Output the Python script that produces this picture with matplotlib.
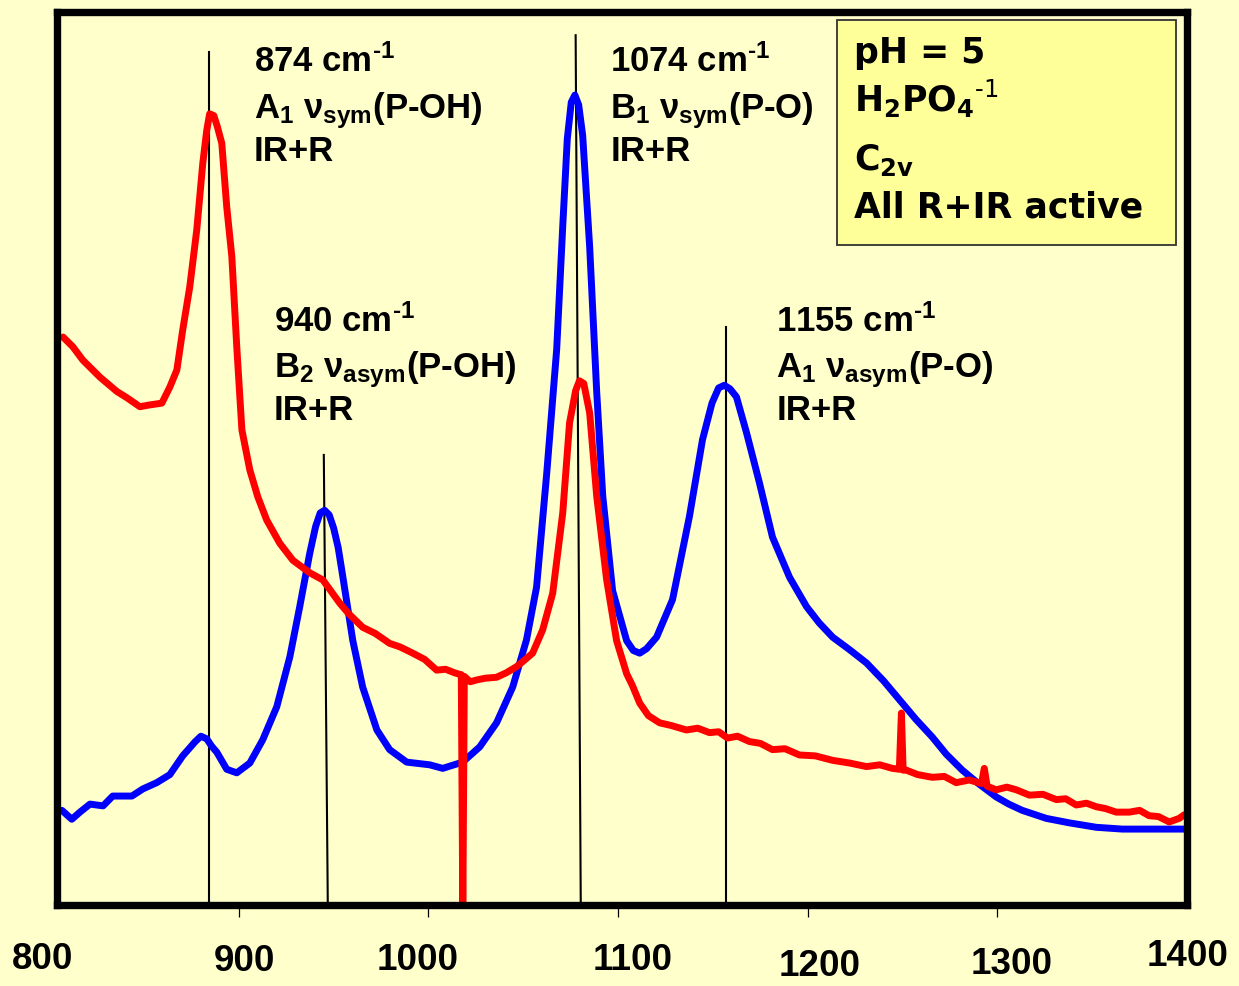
import matplotlib
matplotlib.use("Agg")
import matplotlib.pyplot as plt
import matplotlib.transforms as mtransforms
from matplotlib.patches import Rectangle

# spectra (wavenumber in cm-1, intensity in arbitrary units 0-100)
red_x = [807.3, 812.5, 817.8, 826.8, 835.7, 841.0, 847.8, 853.0, 859.4, 863.6, 867.3, 870.4,
         874.1, 877.8, 881.0, 883.1, 884.6, 886.8, 888.6, 891.0, 893.6, 896.3, 898.9, 901.6,
         905.8, 910.0, 914.7, 921.6, 928.5, 937.4, 944.3, 953.2, 958.0, 965.3, 972.0, 979.5,
         985.0, 991.7, 998.0, 1004.3, 1009.0, 1013.8, 1016.9,
         1017.3, 1018.1, 1018.9, 1022.0, 1025.4, 1030.0, 1035.9, 1041.0, 1046.5, 1050.5, 1054.9,
         1060.2, 1065.5, 1070.8, 1074.4, 1077.6, 1079.6, 1081.9, 1085.0, 1088.7, 1093.9, 1099.2,
         1104.5, 1107.5, 1111.4, 1116.0, 1121.9, 1128.0, 1136.0, 1142.0, 1148.2, 1153.0, 1157.7,
         1163.0, 1169.3, 1175.0, 1181.4, 1188.0, 1195.6, 1204.0, 1213.1, 1222.0, 1231.0, 1238.0,
         1244.6, 1248.3, 1249.4, 1250.3, 1252.0, 1258.0, 1265.7, 1272.0, 1278.3, 1285.2, 1291.6,
         1293.1, 1294.6, 1299.4, 1305.0, 1310.0, 1316.9, 1324.0, 1331.1, 1336.0, 1341.6, 1347.0,
         1352.2, 1357.0, 1362.7, 1369.6, 1375.0, 1380.0, 1385.0, 1390.6, 1395.9, 1398.5]
red_y = [63.6, 62.5, 61.0, 59.1, 57.5, 56.8, 55.8, 56.0, 56.2, 58.0, 59.9, 64.4,
         69.2, 75.6, 83.1, 86.8, 88.6, 88.4, 87.2, 85.3, 78.2, 72.6, 62.5, 53.2,
         48.7, 45.7, 43.1, 40.5, 38.6, 37.2, 36.4, 33.8, 32.6, 31.1, 30.4, 29.3,
         28.9, 28.2, 27.5, 26.3, 26.4, 26.0, 25.8,
         25.8, -1.0, 25.6, 25.0, 25.2, 25.4, 25.5, 26.0, 26.7, 27.4, 28.2,
         30.8, 34.9, 43.9, 54.0, 57.6, 58.7, 58.4, 55.1, 45.8, 36.5, 29.6,
         25.9, 24.6, 22.6, 21.2, 20.4, 20.1, 19.6, 19.8, 19.3, 19.4, 18.7,
         18.9, 18.3, 18.1, 17.4, 17.5, 16.8, 16.7, 16.2, 15.9, 15.5, 15.7,
         15.3, 15.2, 21.5, 15.1, 15.1, 14.6, 14.3, 14.4, 13.7, 14.0, 13.6,
         15.3, 13.3, 12.9, 13.2, 12.9, 12.3, 12.4, 11.8, 11.9, 11.2, 11.4,
         11.0, 10.8, 10.4, 10.4, 10.6, 10.0, 9.9, 9.3, 9.7, 10.1]

blue_x = [806.7, 811.9, 816.2, 821.5, 828.4, 833.5, 843.6, 849.4, 856.7, 863.6, 870.4, 877.0,
          880.0, 883.1, 885.6, 888.4, 893.6, 898.9, 905.8, 912.6, 920.0, 926.9, 932.1, 937.4,
          940.5, 942.9, 945.2, 947.6, 950.0, 952.4, 954.8, 960.1, 965.3, 972.8, 979.5, 988.5,
          1000.6, 1007.5, 1018.0, 1027.0, 1035.9, 1044.4, 1051.7, 1057.0, 1062.3, 1067.6, 1070.8,
          1073.2, 1075.3, 1077.2, 1079.2, 1081.3, 1085.0, 1088.7, 1091.9, 1097.1, 1104.5, 1108.0,
          1111.4, 1115.0, 1120.3, 1128.7, 1137.6, 1144.5, 1149.5, 1153.0, 1156.0, 1159.0, 1162.4,
          1167.7, 1174.5, 1181.4, 1190.4, 1199.4, 1206.0, 1213.1, 1222.0, 1231.0, 1240.0, 1248.3,
          1257.0, 1265.7, 1273.0, 1281.5, 1290.0, 1299.4, 1306.0, 1313.1, 1325.8, 1337.9, 1352.2,
          1366.0, 1398.5]
blue_y = [10.6, 9.6, 10.4, 11.3, 11.1, 12.2, 12.2, 13.0, 13.7, 14.6, 16.7, 18.3,
          18.9, 18.6, 17.8, 17.1, 15.2, 14.8, 15.9, 18.5, 22.2, 27.8, 33.4, 39.4,
          42.4, 43.9, 44.2, 43.7, 42.2, 40.0, 36.8, 29.6, 24.4, 19.6, 17.4, 16.0,
          15.7, 15.3, 16.0, 17.7, 20.4, 24.4, 29.7, 35.6, 48.2, 62.2, 76.0,
          85.8, 89.9, 90.7, 89.6, 86.2, 73.7, 57.5, 45.8, 35.2, 29.6, 28.5,
          28.2, 28.7, 30.0, 34.2, 43.5, 52.1, 56.2, 57.9, 58.2, 57.8, 56.9,
          52.9, 47.3, 41.2, 36.7, 33.4, 31.6, 30.0, 28.6, 27.1, 25.1, 23.0,
          20.8, 18.8, 16.9, 15.1, 13.6, 12.1, 11.3, 10.6, 9.7, 9.2, 8.7,
          8.5, 8.5]

# peak marker lines: top x, bottom x, top height
peak_top_x = [884.2, 944.8, 1077.6, 1157.1]
peak_bottom_x = [884.2, 946.9, 1080.3, 1157.1]
peak_top_y = [95.5, 50.4, 97.4, 64.7]

peak_labels = [
    [r"874 cm$^{\text{-1}}$", r"A$_1$ $\nu_{sym}$(P-OH)", "IR+R"],
    [r"940 cm$^{\text{-1}}$", r"B$_2$ $\nu_{asym}$(P-OH)", "IR+R"],
    [r"1074 cm$^{\text{-1}}$", r"B$_1$ $\nu_{sym}$(P-O)", "IR+R"],
    [r"1155 cm$^{\text{-1}}$", r"A$_1$ $\nu_{asym}$(P-O)", "IR+R"],
]
info_lines = ["pH = 5", r"$\mathbf{H_2PO_4{}^{\text{-1}}}$", r"$\mathbf{C_{2v}}$", "All R+IR active"]

tick_values = [800, 900, 1000, 1100, 1200, 1300, 1400]

# layout (where the labels sit on the slide)
label_left = [907.9, 918.4, 1095.9, 1183.4]
label_base = [[93.3, 88.1, 83.3], [64.2, 59.1, 54.3], [93.3, 88.1, 83.3], [64.2, 59.1, 54.3]]
tick_label_x = [796.7, 903.1, 994.3, 1107.6, 1206.2, 1307.4, 1400.2]
tick_label_y = [-0.0605, -0.0638, -0.0616, -0.0616, -0.0685, -0.0665, -0.0582]
info_base = [0.943, 0.888, 0.823, 0.770]

BG = "#FFFFCC"

plt.rcParams["mathtext.fontset"] = "custom"
plt.rcParams["mathtext.rm"] = "Liberation Sans:bold"
plt.rcParams["mathtext.it"] = "Liberation Sans:bold"
plt.rcParams["mathtext.bf"] = "Liberation Sans:bold"

fig = plt.figure(figsize=(12.39, 9.86), dpi=100, facecolor=BG)
ax = fig.add_axes([57 / 1239, 81 / 986, 1130 / 1239, 893 / 986])
ax.set_facecolor(BG)

for xt, xb, yt in zip(peak_top_x, peak_bottom_x, peak_top_y):
    ax.plot([xt, xb], [yt, 0], color="black", lw=1.5, zorder=1)

ax.plot(blue_x, blue_y, color="#0000FF", lw=5.0, zorder=3,
        solid_joinstyle="round", solid_capstyle="round")
ax.plot(red_x, red_y, color="#FF0000", lw=5.0, zorder=4,
        solid_joinstyle="round", solid_capstyle="round")

ax.set_xlim(804.1, 1400)
ax.set_ylim(0, 100)
ax.set_yticks([])
ax.set_xticks(tick_values[1:-1])
ax.set_xticklabels([])
ax.tick_params(axis="x", direction="out", length=8.6, width=0.9, color="black")
for s in ax.spines.values():
    s.set_linewidth(5.3)
    s.set_zorder(6)

# staggered tick labels as on the slide
trans = mtransforms.blended_transform_factory(ax.transData, ax.transAxes)
for v, lx, ly in zip(tick_values, tick_label_x, tick_label_y):
    ax.text(lx, ly, str(v), transform=trans, ha="center", va="center",
            fontsize=26.5, fontweight="bold", family=["Liberation Sans", "DejaVu Sans"],
            clip_on=False)

for lines, lx, bases in zip(peak_labels, label_left, label_base):
    for txt, by in zip(lines, bases):
        ax.text(lx, by, txt, ha="left", va="baseline", fontsize=25,
                fontweight="bold", family=["Liberation Sans", "DejaVu Sans"], zorder=5)

ax.add_patch(Rectangle((0.690, 0.739), 0.300, 0.252, transform=ax.transAxes,
                       facecolor="#FFFF99", edgecolor="#333333", lw=1.3, zorder=7))
for txt, by in zip(info_lines, info_base):
    ax.text(0.705, by, txt, transform=ax.transAxes, ha="left", va="baseline",
            fontsize=25, fontweight="bold", family="DejaVu Sans",
            math_fontfamily="dejavusans", zorder=8)

fig.savefig("out.png", dpi=100, facecolor=BG)
